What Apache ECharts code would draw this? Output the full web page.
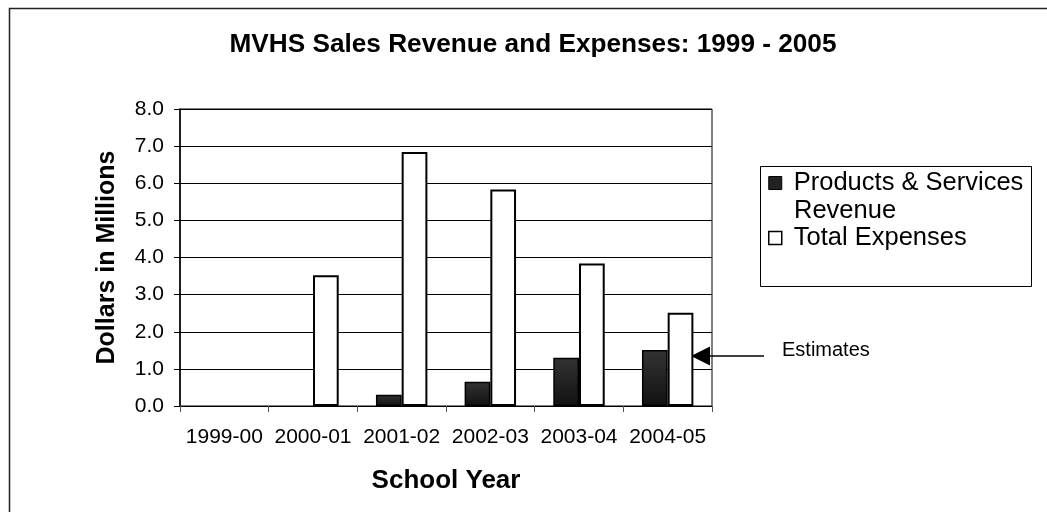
<!DOCTYPE html>
<html>
<head>
<meta charset="utf-8">
<script src="https://cdn.jsdelivr.net/npm/echarts@6/dist/echarts.min.js"></script>
<style>
html,body{margin:0;padding:0;background:#fff;}
#chart{width:1047px;height:512px;}
</style>
</head>
<body>
<div id="chart"></div>
<script>
var categories = ['1999-00', '2000-01', '2001-02', '2002-03', '2003-04', '2004-05'];
var revenue = [null, null, 0.3, 0.65, 1.3, 1.51];
var expenses = [null, 3.52, 6.84, 5.83, 3.84, 2.51];
var yTicks = { min: 0, max: 8, interval: 1 };

var chart = echarts.init(document.getElementById('chart'));
var font = 'Liberation Sans, Arial, sans-serif';
chart.setOption({
  animation: false,
  backgroundColor: '#fff',
  title: {
    text: 'MVHS Sales Revenue and Expenses: 1999 - 2005',
    left: 528, top: 27, textAlign: 'center',
    textStyle: { fontFamily: font, fontSize: 26.2, fontWeight: 'bold', color: '#000' }
  },
  grid: { left: 180, top: 109, width: 532, height: 297, show: true, borderColor: '#000', borderWidth: 1, backgroundColor: 'transparent' },
  legend: {
    orient: 'vertical', left: 768, top: 169, padding: 0, itemWidth: 13, itemHeight: 13, itemGap: 27,
    icon: 'rect',
    textStyle: { fontFamily: font, fontSize: 25.5, color: '#000', lineHeight: 28, padding: [0, 0, 0, 7] },
    formatter: function (name) { return name === 'Products & Services Revenue' ? 'Products & Services' : name; },
    data: [
      { name: 'Products & Services Revenue', itemStyle: { color: '#222', borderColor: '#000', borderWidth: 1 } },
      { name: 'Total Expenses', itemStyle: { color: '#fff', borderColor: '#000', borderWidth: 1.5 } }
    ]
  },
  xAxis: {
    type: 'category', data: categories,
    name: 'School Year', nameLocation: 'middle', nameGap: 62,
    nameTextStyle: { fontFamily: font, fontSize: 26, fontWeight: 'bold', color: '#000' },
    axisLine: { lineStyle: { color: '#000', width: 1 } },
    axisTick: { show: true, length: 6, lineStyle: { color: '#555' } },
    axisLabel: { fontFamily: font, fontSize: 21, color: '#000', margin: 21, interval: 0 }
  },
  yAxis: {
    type: 'value', min: yTicks.min, max: yTicks.max, interval: yTicks.interval,
    name: 'Dollars in Millions', nameLocation: 'middle', nameGap: 60,
    nameTextStyle: { fontFamily: font, fontSize: 25, fontWeight: 'bold', color: '#000' },
    axisLine: { show: true, lineStyle: { color: '#000', width: 1.5 } },
    axisTick: { show: true, length: 6, lineStyle: { color: '#000' } },
    axisLabel: { fontFamily: font, fontSize: 21, color: '#000', margin: 16, formatter: function(v){ return v.toFixed(1); } },
    splitLine: { show: true, lineStyle: { color: '#000', width: 1 } }
  },
  series: [
    {
      name: 'Products & Services Revenue', type: 'bar', data: revenue,
      barGap: '0%', barCategoryGap: '42%',
      itemStyle: {
        color: new echarts.graphic.LinearGradient(0, 0, 0, 1, [{ offset: 0, color: '#333' }, { offset: 1, color: '#111' }]),
        borderColor: '#000', borderWidth: 1.5
      }
    },
    {
      name: 'Total Expenses', type: 'bar', data: expenses,
      itemStyle: { color: '#fff', borderColor: '#000', borderWidth: 2 }
    }
  ],
  graphic: [
    { type: 'rect', shape: { x: 9.5, y: 8.5, width: 1100, height: 600 }, style: { fill: 'none', stroke: '#222', lineWidth: 1.5 }, silent: true, z: -1 },
    { type: 'rect', shape: { x: 760.5, y: 166.5, width: 271, height: 120 }, style: { fill: 'none', stroke: '#000', lineWidth: 1 }, silent: true },
    { type: 'text', x: 794, y: 211, style: { text: 'Revenue', fontFamily: font, fontSize: 25.5, fill: '#000', verticalAlign: 'middle' } },
    { type: 'line', shape: { x1: 706, y1: 356, x2: 764, y2: 356 }, style: { stroke: '#000', lineWidth: 1.5 } },
    { type: 'polygon', shape: { points: [[691, 356], [710, 346.5], [710, 365.5]] }, style: { fill: '#000' } },
    { type: 'text', x: 782, y: 350, style: { text: 'Estimates', fontFamily: font, fontSize: 20, fill: '#000', verticalAlign: 'middle' } }
  ]
});
</script>
</body>
</html>
